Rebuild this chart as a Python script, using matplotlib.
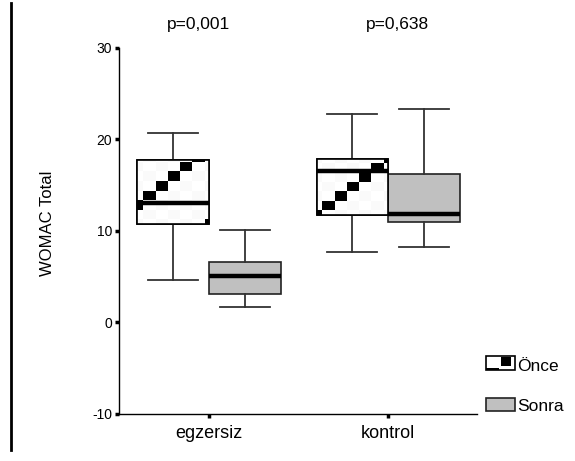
import numpy as np
import matplotlib
matplotlib.use("Agg")
from matplotlib import pyplot as plt
from matplotlib import transforms
from matplotlib.patches import Rectangle, PathPatch, Patch
from matplotlib.lines import Line2D

plt.rcParams['font.family'] = ['Liberation Sans', 'DejaVu Sans']
plt.rcParams['axes.unicode_minus'] = False

groups = ['egzersiz', 'kontrol']
series = ['Önce', 'Sonra']
p_values = ['p=0,001', 'p=0,638']

# box stats: whislo, q1, med, q3, whishi
once_stats = [[4.6, 10.8, 13.1, 17.8, 20.7],
              [7.7, 11.7, 16.5, 17.9, 22.8]]
sonra_stats = [[1.7, 3.1, 5.1, 6.6, 10.1],
               [8.3, 11.0, 11.8, 16.2, 23.3]]


def make_stats(vals):
    return dict(whislo=vals[0], q1=vals[1], med=vals[2], q3=vals[3], whishi=vals[4])


fig = plt.figure(figsize=(5.75, 4.61), dpi=100)
ax = fig.add_axes([0.207, 0.102, 0.623, 0.794])

width = 0.4
pos_once = [i + 1 - width / 2 for i in range(len(groups))]
pos_sonra = [i + 1 + width / 2 for i in range(len(groups))]

common = dict(widths=width, capwidths=0.28, patch_artist=True, showfliers=False,
              whiskerprops=dict(color='#333333', lw=1.3),
              capprops=dict(color='#333333', lw=1.3),
              medianprops=dict(color='black', lw=3.2, solid_capstyle='butt', zorder=4))

b1 = ax.bxp([make_stats(v) for v in once_stats], positions=pos_once,
            boxprops=dict(facecolor='white', edgecolor='black', lw=1.2), **common)
b2 = ax.bxp([make_stats(v) for v in sonra_stats], positions=pos_sonra,
            boxprops=dict(facecolor='#c0c0c0', edgecolor='#222222', lw=1.2), **common)

# diagonal square pattern inside the "Önce" boxes
cw, ch, ybase = 0.068, 1.04, 13.33
phases = [0, 1]
for box, pos, vals, ph in zip(b1['boxes'], pos_once, once_stats, phases):
    left, right = pos - width / 2, pos + width / 2
    xs0 = left + 0.03 - cw
    ncol = int(np.ceil((right - xs0) / cw))
    kmin = int(np.floor((vals[1] - ybase) / ch))
    kmax = int(np.ceil((vals[3] - ybase) / ch))
    img = np.zeros((kmax - kmin, ncol))
    for r in range(kmax - kmin):
        for c in range(ncol):
            col, row = c - 1, kmin + r
            if (col - row - ph) % 8 == 0:
                img[r, c] = 1.0
            elif (c + r) % 2 == 0:
                img[r, c] = 0.02
    im = ax.imshow(img, cmap='gray_r', vmin=0, vmax=1, origin='lower', aspect='auto',
                   interpolation='nearest', zorder=2.5,
                   extent=[xs0, xs0 + ncol * cw, ybase + kmin * ch, ybase + kmax * ch])
    im.set_clip_path(box)
    ax.add_patch(PathPatch(box.get_path(), fill=False, edgecolor='black', lw=1.2, zorder=3))

ax.set_xlim(0.497, 2.497)
ax.set_ylim(-10, 30)
ax.set_yticks([-10, 0, 10, 20, 30])
ax.set_xticks([1, 2])
ax.set_xticklabels(groups, fontsize=13)
ax.tick_params(axis='y', length=3, width=2.5, labelsize=10, pad=2)
ax.tick_params(axis='x', length=3, width=2.5, pad=5)
for s in ['top', 'right']:
    ax.spines[s].set_visible(False)
ax.spines['left'].set_linewidth(1)
ax.spines['bottom'].set_linewidth(1)
ax.set_ylabel('WOMAC Total', fontsize=12)
ax.yaxis.set_label_coords(-0.179, 0.522)

ptrans = transforms.blended_transform_factory(ax.transData, fig.transFigure)
for i, p in enumerate(p_values):
    ax.text(i + 1 + (-0.06 if i == 0 else 0.05), 0.946, p, fontsize=12.5,
            ha='center', va='center', transform=ptrans)


class OnceHandler:
    def legend_artist(self, legend, orig_handle, fontsize, handlebox):
        x0, y0 = handlebox.xdescent, handlebox.ydescent
        w, h = handlebox.width, handlebox.height
        tr = handlebox.get_transform()
        handlebox.add_artist(Rectangle((x0, y0), w, h, facecolor='white', edgecolor='black',
                                       lw=1.2, transform=tr))
        handlebox.add_artist(Rectangle((x0 + 0.5 * w, y0 + 0.3 * h), 0.35 * w, 0.62 * h,
                                       facecolor='black', edgecolor='none', transform=tr))
        handlebox.add_artist(Rectangle((x0, y0), 0.45 * w, 0.15 * h,
                                       facecolor='black', edgecolor='none', transform=tr))
        return handlebox


h_once = Patch(facecolor='white', edgecolor='black')
h_sonra = Patch(facecolor='#c0c0c0', edgecolor='#222222', lw=1.2)
fig.legend([h_once, h_sonra], series, loc='center left', bbox_to_anchor=(0.846, 0.163),
           frameon=False, fontsize=12.5, handlelength=1.65, handleheight=0.85,
           handletextpad=0.12, labelspacing=1.35, borderaxespad=0, borderpad=0,
           handler_map={h_once: OnceHandler()})

fig.add_artist(Line2D([0.019, 0.019], [0.024, 0.993], transform=fig.transFigure,
                      color='black', lw=2))

fig.savefig('out.png', dpi=100)
